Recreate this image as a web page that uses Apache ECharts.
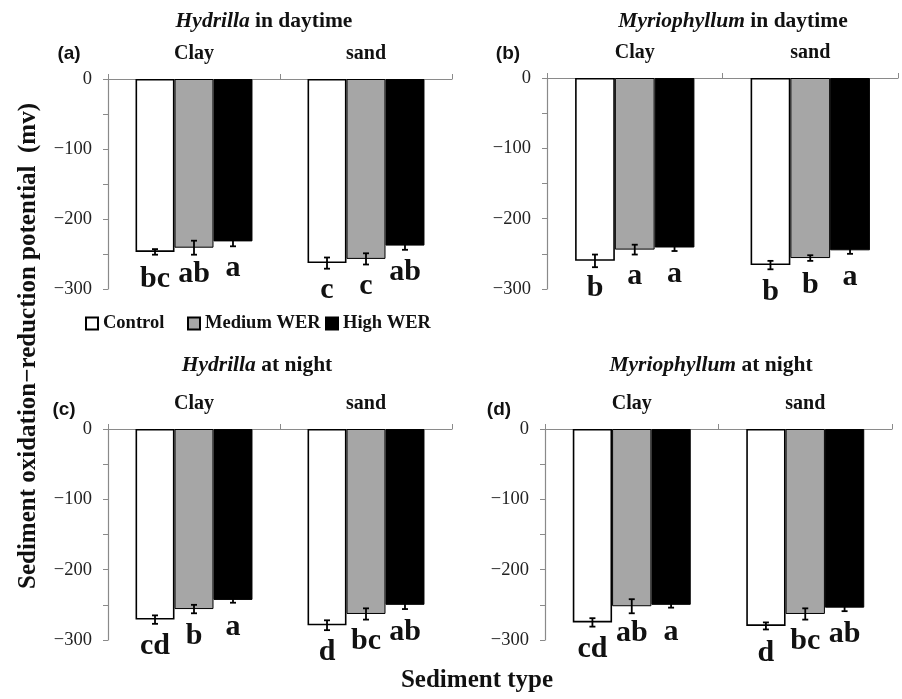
<!DOCTYPE html>
<html>
<head>
<meta charset="utf-8">
<script src="https://cdn.jsdelivr.net/npm/echarts@6/dist/echarts.min.js"></script>
<style>html,body{margin:0;padding:0;background:#fff}#c{width:902px;height:699px}</style>
</head>
<body>
<div id="c"></div>
<script>
const categories = ['Clay', 'sand'];
const treatments = ['Control', 'Medium WER', 'High WER'];
const yTicks = [0, -100, -200, -300];

// Panel (a) Hydrilla in daytime
const aClay = [-247, -241, -232];
const aSand = [-263, -257, -238];
const aClayErr = [4, 10, 7];
const aSandErr = [8, 8, 6];
const aClayLetters = ['bc', 'ab', 'a'];
const aSandLetters = ['c', 'c', 'ab'];

// Panel (b) Myriophyllum in daytime
const bClay = [-260, -244, -241];
const bSand = [-266, -256, -245];
const bClayErr = [9, 7, 5];
const bSandErr = [6, 4, 5];
const bClayLetters = ['b', 'a', 'a'];
const bSandLetters = ['b', 'b', 'a'];

// Panel (c) Hydrilla at night
const cClay = [-271, -256, -243];
const cSand = [-279, -263, -250];
const cClayErr = [6, 6, 4];
const cSandErr = [7, 8, 6];
const cClayLetters = ['cd', 'b', 'a'];
const cSandLetters = ['d', 'bc', 'ab'];

// Panel (d) Myriophyllum at night
const dClay = [-275, -252, -250];
const dSand = [-280, -263, -254];
const dClayErr = [6, 10, 4];
const dSandErr = [5, 8, 5];
const dClayLetters = ['cd', 'ab', 'a'];
const dSandLetters = ['d', 'bc', 'ab'];

const panels = [
  {clay: aClay, sand: aSand, clayErr: aClayErr, sandErr: aSandErr, clayL: aClayLetters, sandL: aSandLetters},
  {clay: bClay, sand: bSand, clayErr: bClayErr, sandErr: bSandErr, clayL: bClayLetters, sandL: bSandLetters},
  {clay: cClay, sand: cSand, clayErr: cClayErr, sandErr: cSandErr, clayL: cClayLetters, sandL: cSandLetters},
  {clay: dClay, sand: dSand, clayErr: dClayErr, sandErr: dSandErr, clayL: dClayLetters, sandL: dSandLetters}
];

const SERIF = '"Liberation Serif", "Times New Roman", serif';
const SANS = '"Liberation Sans", Arial, sans-serif';
const GAP = 0.32;
const fills = ['#ffffff', '#a6a6a6', '#000000'];
const borders = [1.6, 1, 1];
const axisGray = '#8a8a8a';

const grids = [
  {left: 108, top: 79, width: 344, height: 210},
  {left: 547, top: 78, width: 351, height: 211},
  {left: 108, top: 429, width: 344, height: 211},
  {left: 545, top: 429, width: 347, height: 211}
];

const xAxes = grids.map((g, i) => ({
  type: 'category', gridIndex: i, data: categories, position: 'top',
  axisLine: {lineStyle: {color: axisGray, width: 1.2}},
  axisTick: {show: true, alignWithLabel: false, length: 5, lineStyle: {color: axisGray}},
  axisLabel: {margin: 15, fontFamily: SERIF, fontWeight: 'bold', fontSize: 20, color: '#111'}
}));
const yAxes = grids.map((g, i) => ({
  type: 'value', gridIndex: i, min: yTicks[3], max: yTicks[0], interval: 100,
  axisLine: {show: true, lineStyle: {color: axisGray, width: 1.2}},
  axisTick: {show: true, length: 5, lineStyle: {color: axisGray}},
  minorTick: {show: true, splitNumber: 2, length: 5, lineStyle: {color: axisGray}},
  splitLine: {show: false},
  axisLabel: {margin: 16, fontFamily: SERIF, fontSize: 18.5, color: '#222',
    formatter: v => v < 0 ? '\u2212' + (-v) : String(v)}
}));

const series = [];
panels.forEach((p, pi) => {
  treatments.forEach((t, k) => {
    const letters = [p.clayL[k], p.sandL[k]];
    series.push({
      type: 'bar', name: t, xAxisIndex: pi, yAxisIndex: pi,
      data: [p.clay[k], p.sand[k]],
      barGap: '0%', barCategoryGap: (GAP * 100) + '%',
      itemStyle: {color: fills[k], borderColor: '#000', borderWidth: borders[k]},
      label: {show: true, position: 'outside', distance: 12,
        formatter: params => letters[params.dataIndex],
        fontFamily: SERIF, fontWeight: 'bold', fontSize: 30, color: '#111'},
      emphasis: {disabled: true}, silent: true, z: 2
    });
  });
  const errData = [];
  treatments.forEach((t, k) => {
    errData.push([0, p.clay[k], p.clayErr[k], k]);
    errData.push([1, p.sand[k], p.sandErr[k], k]);
  });
  series.push({
    type: 'custom', xAxisIndex: pi, yAxisIndex: pi, data: errData, silent: true, z: 5,
    renderItem: (params, api) => {
      const ci = api.value(0), v = api.value(1), e = api.value(2), k = api.value(3);
      const c = api.coord([ci, v]);
      const catW = api.size([1, 0])[0];
      const bw = catW * (1 - GAP) / 3;
      const x = c[0] + (k - 1) * bw;
      const y1 = api.coord([ci, v + e])[1];
      const y2 = api.coord([ci, v - e])[1];
      const cap = 3;
      const st = {stroke: '#000', lineWidth: 1.8};
      return {type: 'group', children: [
        {type: 'line', shape: {x1: x, y1: y1, x2: x, y2: y2}, style: st},
        {type: 'line', shape: {x1: x - cap, y1: y1, x2: x + cap, y2: y1}, style: st},
        {type: 'line', shape: {x1: x - cap, y1: y2, x2: x + cap, y2: y2}, style: st}
      ]};
    }
  });
});

const titleRich = {
  i: {fontFamily: SERIF, fontStyle: 'italic', fontWeight: 'bold', fontSize: 21.5, fill: '#111', color: '#111'},
  n: {fontFamily: SERIF, fontWeight: 'bold', fontSize: 21.5, fill: '#111', color: '#111'}
};
function tText(x, y, text, font, rich, rot) {
  return {type: 'text', x: x, y: y, rotation: rot || 0, silent: true,
    style: {text: text, font: font, fill: '#111', align: 'center', verticalAlign: 'middle', rich: rich}};
}
const legendLefts = [85, 187, 325];
const legends = treatments.map((t, k) => ({
  data: [t], left: legendLefts[k], top: 314, padding: 0, icon: 'rect', itemWidth: 12, itemHeight: 12,
  textStyle: {fontFamily: SERIF, fontWeight: 'bold', fontSize: 18.5, color: '#111'},
  selectedMode: false
}));

const option = {
  animation: false,
  backgroundColor: '#fff',
  grid: grids,
  xAxis: xAxes,
  yAxis: yAxes,
  legend: legends,
  series: series,
  graphic: [
    tText(264, 21, '{i|Hydrilla}{n| in daytime}', 'bold 21.5px ' + SERIF, titleRich),
    tText(733, 21, '{i|Myriophyllum}{n| in daytime}', 'bold 21.5px ' + SERIF, titleRich),
    tText(257, 365, '{i|Hydrilla}{n| at night}', 'bold 21.5px ' + SERIF, titleRich),
    tText(711, 365, '{i|Myriophyllum}{n| at night}', 'bold 21.5px ' + SERIF, titleRich),
    tText(69, 54, '(a)', 'bold 19px ' + SANS),
    tText(508, 54, '(b)', 'bold 19px ' + SANS),
    tText(64, 410, '(c)', 'bold 19px ' + SANS),
    tText(499, 410, '(d)', 'bold 19px ' + SANS),
    tText(29, 346, 'Sediment oxidation\u2212reduction potential  (mv)', 'bold 25px ' + SERIF, null, Math.PI / 2),
    tText(477, 681, 'Sediment type', 'bold 25px ' + SERIF)
  ]
};

const chart = echarts.init(document.getElementById('c'), null, {renderer: 'canvas'});
chart.setOption(option);
</script>
</body>
</html>
